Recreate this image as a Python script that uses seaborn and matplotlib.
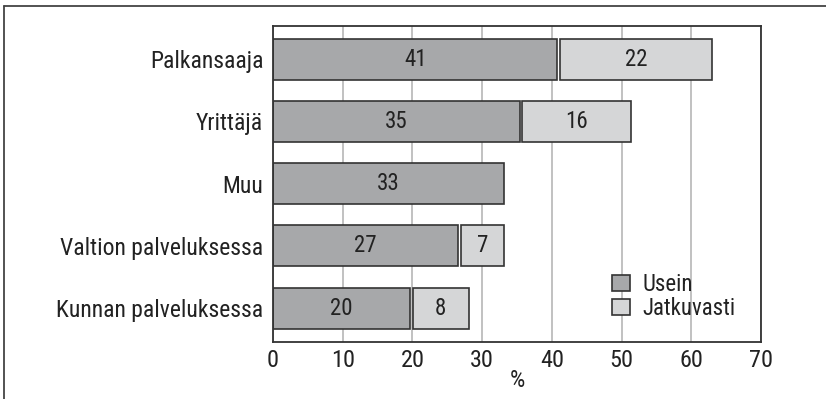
import matplotlib
matplotlib.use("Agg")
import matplotlib.pyplot as plt
import seaborn as sns
import pandas as pd
from matplotlib.lines import Line2D

categories = ["Palkansaaja", "Yrittäjä", "Muu", "Valtion palveluksessa", "Kunnan palveluksessa"]
usein = [40.8, 35.4, 33.2, 26.6, 19.7]
jatkuvasti = [22.2, 16.0, 0.0, 6.6, 8.4]
usein_labels = ["41", "35", "33", "27", "20"]
jatkuvasti_labels = ["22", "16", "", "7", "8"]
xticks = [0, 10, 20, 30, 40, 50, 60, 70]

sns.set_theme(style="white")
FONT = ["Roboto Condensed", "DejaVu Sans"]
plt.rcParams["font.family"] = FONT

df = pd.DataFrame({"cat": categories, "Usein": usein, "Jatkuvasti": jatkuvasti})

fig = plt.figure(figsize=(8.26, 3.99), dpi=100)
ax = fig.add_axes([0.3305, 0.1436, 0.5908, 0.792])

dark = "#a7a8aa"
light = "#d5d6d7"
edge = "#333333"
txtc = "#222222"

sns.barplot(data=df, x="Usein", y="cat", color=dark, edgecolor=edge, linewidth=1.2,
            width=0.66, saturation=1, ax=ax, label="Usein")
sns.barplot(data=df, x="Jatkuvasti", y="cat", color=light, edgecolor=edge, linewidth=1.2,
            width=0.66, saturation=1, ax=ax, label="Jatkuvasti")

c_dark, c_light = ax.containers[0], ax.containers[1]
gap = 0.35
for p, u in zip(c_light.patches, usein):
    w = p.get_width()
    if w > 0:
        p.set_x(u + gap)
        p.set_width(w - gap)
    else:
        p.set_visible(False)

ax.bar_label(c_dark, labels=usein_labels, label_type="center", fontsize=16.5, color=txtc)
ax.bar_label(c_light, labels=jatkuvasti_labels, label_type="center", fontsize=16.5, color=txtc)

ax.set_xlim(0, 70)
ax.set_ylim(4.54, -0.54)
ax.set_xticks(xticks)
ax.set_xticklabels([str(t) for t in xticks], fontsize=17.5, color=txtc)
ax.tick_params(axis="y", labelsize=17, colors=txtc, length=0, pad=7)
ax.tick_params(axis="x", length=0, pad=5)
ax.set_ylabel("")
ax.set_xlabel("%", fontsize=17.5, color=txtc, labelpad=-2)

ax.set_axisbelow(True)
ax.grid(axis="x", color="#b0b0b0", linewidth=1.1)
ax.grid(axis="y", visible=False)
for s in ax.spines.values():
    s.set_visible(True)
    s.set_color(edge)
    s.set_linewidth(1.3)

leg = ax.legend(loc="upper left", bbox_to_anchor=(0.675, 0.245), frameon=False,
                fontsize=16.5, handlelength=0.8, handleheight=0.7, handletextpad=0.55,
                labelspacing=0.02, borderaxespad=0)
for t in leg.get_texts():
    t.set_color(txtc)
for h in leg.legend_handles:
    h.set_edgecolor(edge)

# outer frame (left and top edges visible)
fig.add_artist(Line2D([4 / 826, 4 / 826], [0, 1 - 6 / 399], transform=fig.transFigure, color="#444444", lw=1.3))
fig.add_artist(Line2D([4 / 826, 1], [1 - 6 / 399, 1 - 6 / 399], transform=fig.transFigure, color="#444444", lw=1.3))

fig.savefig("out.png", dpi=100)
